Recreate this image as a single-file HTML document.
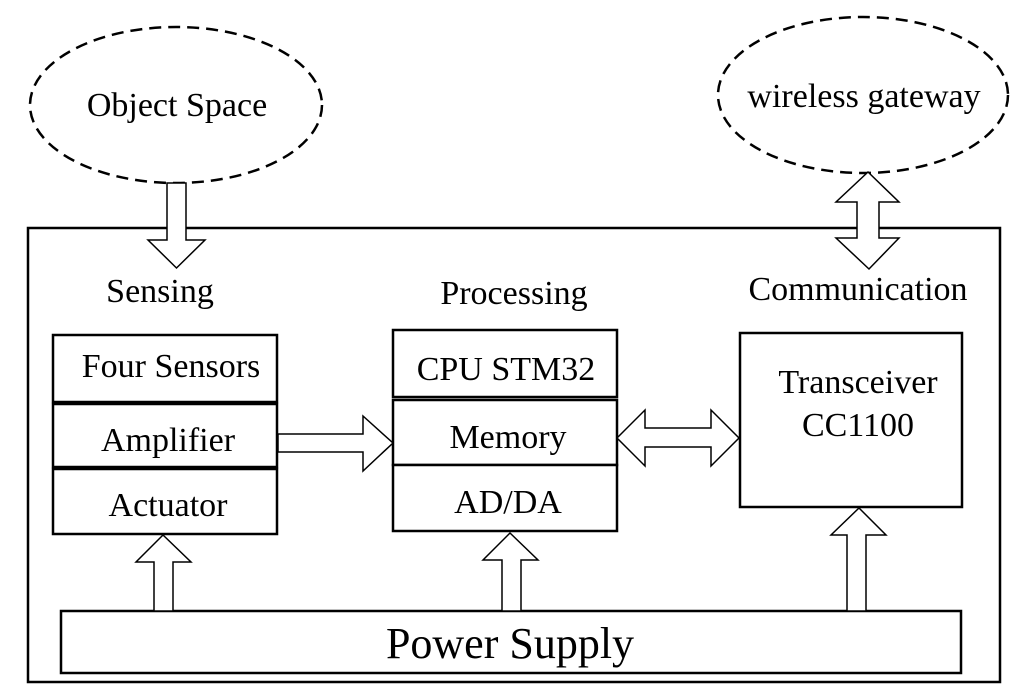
<!DOCTYPE html>
<html><head><meta charset="utf-8"><style>body{margin:0;background:#fff}svg{display:block}text{font-family:"Liberation Serif",serif;fill:#000}</style></head>
<body>
<svg width="1024" height="695" viewBox="0 0 1024 695" xmlns="http://www.w3.org/2000/svg">
<rect width="1024" height="695" fill="#fff"/>
<g fill="none" stroke="#000" stroke-width="2.5" stroke-dasharray="12,7">
<ellipse cx="176" cy="105" rx="146" ry="78"/>
<ellipse cx="863" cy="95" rx="145" ry="78"/>
</g>
<g fill="#fff" stroke="#000" stroke-width="2.5">
<rect x="28" y="228" width="972" height="454"/>
<rect x="53" y="335" width="224" height="67"/>
<rect x="53" y="404" width="224" height="63"/>
<rect x="53" y="469" width="224" height="65"/>
<rect x="393" y="330" width="224" height="67"/>
<rect x="393" y="400" width="224" height="65"/>
<rect x="393" y="465" width="224" height="66"/>
<rect x="740" y="333" width="222" height="174"/>
<rect x="61" y="611" width="900" height="62"/>
</g>
<g fill="#fff" stroke="#000" stroke-width="1.5">
<polygon points="167,183 186,183 186,240 205,240 176.5,268 148,240 167,240"/>
<polygon points="868,172 899,202 879,202 879,238 899,238 869,269 836,238 857,238 857,202 836,202"/>
<polygon points="278,434 363,434 363,416 393,443 363,471 363,452 278,452"/>
<polygon points="617,438 645,410 645,428 711,428 711,410 739,438 711,466 711,447 645,447 645,466"/>
<polygon points="154,611 154,562 136,562 163,535 191,562 173,562 173,611"/>
<polygon points="502,611 502,560 483,560 510,533 538,560 521,560 521,611"/>
<polygon points="847,611 847,535 831,535 859,508 886,535 866,535 866,611"/>
</g>
<g font-size="34" text-anchor="middle">
<text x="177" y="116">Object Space</text>
<text x="864" y="107">wireless gateway</text>
<text x="160" y="302">Sensing</text>
<text x="514" y="304">Processing</text>
<text x="858" y="300">Communication</text>
<text x="171" y="377">Four Sensors</text>
<text x="168" y="451">Amplifier</text>
<text x="168" y="516">Actuator</text>
<text x="506" y="380">CPU STM32</text>
<text x="508" y="448">Memory</text>
<text x="508" y="513">AD/DA</text>
<text x="858" y="393">Transceiver</text>
<text x="858" y="436">CC1100</text>
<text x="510" y="658" font-size="44">Power Supply</text>
</g>
</svg>
</body></html>
